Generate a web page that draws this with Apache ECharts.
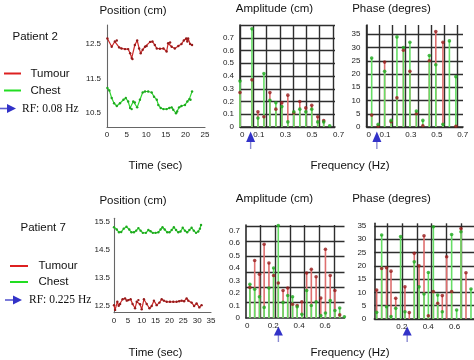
<!DOCTYPE html>
<html><head><meta charset="utf-8">
<script src="https://cdn.jsdelivr.net/npm/echarts@6/dist/echarts.min.js"></script>
<style>html,body{margin:0;padding:0;background:#fff}#c{width:474px;height:360px}</style>
</head><body><div id="c"></div>
<script>
// ---------- Patient 2 : position traces ----------
const p2TumourT = [0.1,1.2,2.0,2.5,3.1,3.7,4.6,5.4,5.9,6.3,6.5,7.1,7.7,8.2,8.6,9.1,9.7,10.1,11.0,11.6,12.2,12.7,13.5,14.4,15.2,15.6,16.1,16.5,17.3,18.2,19.0,19.6,20.2,20.5,20.7,21.2,21.7];
const p2Tumour  = [12.66,12.42,12.57,12.60,12.40,12.37,12.35,12.35,12.23,12.09,12.06,12.47,12.60,12.37,12.23,12.33,12.42,12.44,12.56,12.57,12.47,12.37,12.36,12.37,12.28,12.52,12.54,12.42,12.37,12.44,12.50,12.60,12.66,12.57,12.66,12.50,12.47];
const p2ChestT  = [0.1,0.6,1.2,1.8,2.5,3.3,4.2,4.8,5.4,5.9,6.3,6.7,7.1,7.7,8.4,9.1,9.7,10.5,11.4,12.0,12.7,13.1,13.7,14.4,15.2,15.9,16.5,16.9,17.6,17.9,18.4,19.0,19.9,20.5,21.0,21.3,21.7];
const p2Chest   = [11.22,11.15,10.93,10.78,10.70,10.78,10.88,10.93,10.83,10.64,10.61,10.83,10.80,10.66,10.88,11.09,11.12,11.12,11.09,10.97,10.88,10.73,10.64,10.61,10.61,10.64,10.66,10.59,10.49,10.54,10.66,10.70,10.73,10.83,10.90,10.88,11.12];
// ---------- Patient 2 : spectra ----------
const p2AmpFreq     = [0,0.09,0.135,0.18,0.225,0.27,0.315,0.36,0.405,0.45,0.495,0.54,0.585,0.63,0.675];
const p2AmpTumour   = [0.27,0.37,0.12,0.08,0.27,0.14,0.19,0.25,0.11,0.20,0.15,0.17,0.08,0.05,null];
const p2AmpChest    = [0.36,0.77,0.07,0.42,0.21,0.19,0.16,0.04,0.12,0.14,0.12,0.14,0.04,0.04,0.01];
const p2PhFreq      = [0.04,0.09,0.14,0.19,0.235,0.285,0.335,0.385,0.435,0.485,0.535,0.59,0.64,0.69];
const p2PhTumour    = [4.5,0.3,24.5,2,11,29,21,5,0.5,25,36,32,null,0.3];
const p2PhChest     = [26,1,21,2.5,34,30,32,6,2.5,27,23.5,1,32.5,19];
const p2RF = 0.08;
// ---------- Patient 7 : position traces ----------
const p7TumourT = [0,0.4,1.2,1.7,2.2,3.1,4.0,4.6,5.2,6.0,6.7,7.6,8.2,8.8,9.4,10.0,10.8,11.8,12.8,13.6,14.4,15.4,16.4,17.2,18.0,19.0,20.2,21.4,22.6,23.5,24.4,25.3,26.2,26.8,28.0,28.9,29.8,30.8,31.6];
const p7Tumour  = [12.52,12.35,12.64,12.50,12.56,12.73,12.76,12.68,12.70,12.73,12.56,12.41,12.64,12.70,12.55,12.37,12.73,12.56,12.41,12.49,12.68,12.52,12.61,12.73,12.68,12.64,12.64,12.64,12.64,12.66,12.68,12.66,12.76,12.68,12.61,12.49,12.58,12.44,12.52];
const p7ChestT  = [0,1,1.8,2.6,3.5,4.5,5.5,6.3,7.2,8,8.8,9.6,10.4,11.5,12.4,13.2,14,15,16,16.8,17.5,18.3,19.2,20,20.8,21.6,22.4,23.2,24,24.8,25.6,26.4,27.2,28,28.8,29.6,30.4,31,31.4];
const p7Chest   = [15.30,15.22,15.12,15.13,15.25,15.32,15.22,15.12,15.12,15.18,15.27,15.18,15.10,15.10,15.20,15.16,15.10,15.10,15.12,15.22,15.30,15.22,15.12,15.12,15.20,15.30,15.20,15.12,15.15,15.28,15.18,15.12,15.20,15.28,15.18,15.10,15.15,15.25,15.38];
// ---------- Patient 7 : spectra ----------
const p7AmpFreq   = [0.02,0.057,0.094,0.13,0.167,0.203,0.239,0.276,0.312,0.349,0.385,0.421,0.458,0.494,0.531,0.567,0.603,0.64,0.676,0.713,0.749];
const p7AmpTumour = [0.245,0.46,0.35,0.59,0.44,0.34,0.28,0.22,0.24,0.11,0.10,0.13,0.36,0.39,0.33,0.16,0.55,0.34,0.22,0.025,null];
const p7AmpChest  = [0.27,0.23,0.17,0.085,0.24,0.40,0.74,0.125,0.18,0.17,0.09,0.03,0.22,0.10,0.13,0.02,0.04,0.14,0.06,0.08,0.01];
const p7PhFreq    = [0.008,0.046,0.083,0.117,0.153,0.19,0.223,0.256,0.294,0.33,0.368,0.401,0.439,0.472,0.507,0.54,0.578,0.616,0.649,0.687,0.725];
const p7PhTumour  = [10.9,19,19.3,18,7.8,null,12.1,2.4,24.7,20,31.3,1.2,10.3,5.9,8.8,23.4,10.3,null,34,17.4,null];
const p7PhChest   = [2.5,31.6,4.6,0.9,4,31,2.7,null,21.5,12.1,9.4,17.5,34.7,9,2.7,null,31.8,3.4,32.8,null,11.3];
const p7RF = 0.24;
// ---------- tick labels ----------
const p2PosYTicks = [10.5,11.5,12.5];
const p7PosYTicks = [12.5,13.5,14.5,15.5];
const topFreqLabels = [0,0.1,0.3,0.5,0.7];
const topFreqGrid = [0,0.1,0.2,0.3,0.4,0.5,0.6,0.7];
const ampLabels = [0,0.1,0.2,0.3,0.4,0.5,0.6,0.7];
const topAmpGrid = [0,0.1,0.2,0.3,0.4,0.5,0.6,0.7,0.8];
const phaseLabels = [0,5,10,15,20,25,30,35];
const p7AmpFreqLabels = [0,0.2,0.4,0.6];
const p7AmpXGrid = [0.1,0.214,0.328,0.442,0.556,0.67];
const p7AmpYGrid = [0.123,0.246,0.369,0.492,0.615,0.738];
const p7PhFreqLabels = [0.2,0.4,0.6];
const p7PhXGrid = [0.09,0.202,0.314,0.426,0.538,0.65];

const FONT = '"Liberation Sans", Arial, sans-serif';
const SERIF = '"Liberation Serif", "Times New Roman", serif';
const RED_LINE = '#cc2a2a', RED_DOT = '#961a1a';
const GRN_LINE = '#2fd62f', GRN_DOT = '#1fa81f';
const STEM_RED = '#de6f6f', STEM_GRN = '#66de66';
const GRID_C = '#2e2e2e';

const zip = (a, b) => a.map((v, i) => [v, b[i]]).filter(p => p[1] !== null && p[1] !== undefined);
const lbl = (extra) => Object.assign({fontSize: 8, color: '#222', fontFamily: FONT, margin: 4}, extra || {});

const grids = [
  {left: 107, top: 25, width: 98, height: 102},
  {left: 240, top: 25, width: 95, height: 102},
  {left: 366.5, top: 25, width: 96.5, height: 102},
  {left: 114, top: 218.3, width: 97, height: 94.4},
  {left: 246, top: 225, width: 98.5, height: 93},
  {left: 374.3, top: 223.3, width: 99.7, height: 95.7}
];

const gridLine = {show: true, lineStyle: {color: GRID_C, width: 1.4}};
const darkAxis = {show: true, onZero: false, lineStyle: {color: '#2a2a2a', width: 1.6}};
const grayAxis = {show: true, onZero: false, lineStyle: {color: '#666', width: 1.1}};

const xAxis = [
  {gridIndex: 0, type: 'value', min: 0, max: 25, interval: 5, axisLine: grayAxis, axisTick: {show: false}, splitLine: {show: false}, axisLabel: lbl()},
  {gridIndex: 1, type: 'value', min: 0, max: 0.715, axisLine: darkAxis, axisTick: {show: false, customValues: topFreqGrid}, splitLine: gridLine, axisLabel: lbl({align: 'left', customValues: topFreqLabels, formatter: v => String(v)})},
  {gridIndex: 2, type: 'value', min: 0, max: 0.745, axisLine: darkAxis, axisTick: {show: false, customValues: topFreqGrid}, splitLine: gridLine, axisLabel: lbl({align: 'left', customValues: topFreqLabels, formatter: v => String(v)})},
  {gridIndex: 3, type: 'value', min: 0, max: 35, interval: 5, axisLine: grayAxis, axisTick: {show: false}, splitLine: {show: false}, axisLabel: lbl()},
  {gridIndex: 4, type: 'value', min: -0.01, max: 0.75, axisLine: darkAxis, axisTick: {show: false, customValues: p7AmpXGrid}, splitLine: gridLine, axisLabel: lbl({customValues: p7AmpFreqLabels, formatter: v => String(v)})},
  {gridIndex: 5, type: 'value', min: -0.01, max: 0.748, axisLine: darkAxis, axisTick: {show: false, customValues: p7PhXGrid}, splitLine: gridLine, axisLabel: lbl({customValues: p7PhFreqLabels, formatter: v => String(v)})}
];

const yAxis = [
  {gridIndex: 0, type: 'value', min: 10.09, max: 13.05, axisLine: grayAxis, axisTick: {show: false, customValues: p2PosYTicks}, splitLine: {show: false}, axisLabel: lbl({margin: 6, customValues: p2PosYTicks, formatter: v => v.toFixed(1)})},
  {gridIndex: 1, type: 'value', min: 0, max: 0.8, axisLine: darkAxis, axisTick: {show: false, customValues: topAmpGrid}, splitLine: gridLine, axisLabel: lbl({margin: 6, customValues: ampLabels, formatter: v => String(v)})},
  {gridIndex: 2, type: 'value', min: 0, max: 38.5, axisLine: darkAxis, axisTick: {show: false, customValues: phaseLabels}, splitLine: gridLine, axisLabel: lbl({margin: 6, customValues: phaseLabels})},
  {gridIndex: 3, type: 'value', min: 12.25, max: 15.62, axisLine: grayAxis, axisTick: {show: false, customValues: p7PosYTicks}, splitLine: {show: false}, axisLabel: lbl({margin: 4, customValues: p7PosYTicks, formatter: v => v.toFixed(1)})},
  {gridIndex: 4, type: 'value', min: 0, max: 0.744, axisLine: darkAxis, axisTick: {show: false, customValues: p7AmpYGrid}, splitLine: gridLine, axisLabel: lbl({margin: 6, customValues: ampLabels, formatter: v => String(v)})},
  {gridIndex: 5, type: 'value', min: 0, max: 36, axisLine: darkAxis, axisTick: {show: false, customValues: phaseLabels}, splitLine: gridLine, axisLabel: lbl({margin: 8, customValues: phaseLabels})}
];

function posLine(idx, t, v, lineC, dotC) {
  return {type: 'line', xAxisIndex: idx, yAxisIndex: idx, data: zip(t, v), symbol: 'circle', symbolSize: 2.4, showSymbol: true,
    lineStyle: {color: lineC, width: 1.2}, itemStyle: {color: dotC}, silent: true};
}
function stems(idx, f, v, color) {
  return {type: 'custom', xAxisIndex: idx, yAxisIndex: idx, data: zip(f, v), encode: {x: 0, y: 1}, silent: true,
    renderItem: function (params, api) {
      const p0 = api.coord([api.value(0), 0]);
      const p1 = api.coord([api.value(0), api.value(1)]);
      return {type: 'line', shape: {x1: p0[0], y1: p0[1], x2: p1[0], y2: p1[1]}, style: {stroke: color, lineWidth: 1.6}};
    }};
}
function dots(idx, f, v, color) {
  return {type: 'scatter', xAxisIndex: idx, yAxisIndex: idx, data: zip(f, v), symbol: 'circle', symbolSize: 3.6, itemStyle: {color: color}, silent: true};
}

const series = [
  posLine(0, p2TumourT, p2Tumour, RED_LINE, RED_DOT),
  posLine(0, p2ChestT, p2Chest, GRN_LINE, GRN_DOT),
  posLine(3, p7TumourT, p7Tumour, RED_LINE, RED_DOT),
  posLine(3, p7ChestT, p7Chest, GRN_LINE, GRN_DOT),
  stems(1, p2AmpFreq, p2AmpTumour, STEM_RED), stems(1, p2AmpFreq, p2AmpChest, STEM_GRN),
  dots(1, p2AmpFreq, p2AmpTumour, RED_DOT), dots(1, p2AmpFreq, p2AmpChest, GRN_DOT),
  stems(2, p2PhFreq, p2PhTumour, STEM_RED), stems(2, p2PhFreq, p2PhChest, STEM_GRN),
  dots(2, p2PhFreq, p2PhTumour, RED_DOT), dots(2, p2PhFreq, p2PhChest, GRN_DOT),
  stems(4, p7AmpFreq, p7AmpTumour, STEM_RED), stems(4, p7AmpFreq, p7AmpChest, STEM_GRN),
  dots(4, p7AmpFreq, p7AmpTumour, RED_DOT), dots(4, p7AmpFreq, p7AmpChest, GRN_DOT),
  stems(5, p7PhFreq, p7PhTumour, STEM_RED), stems(5, p7PhFreq, p7PhChest, STEM_GRN),
  dots(5, p7PhFreq, p7PhTumour, RED_DOT), dots(5, p7PhFreq, p7PhChest, GRN_DOT)
];

const chart = echarts.init(document.getElementById('c'), null, {renderer: 'canvas'});
chart.setOption({animation: false, backgroundColor: '#fff', grid: grids, xAxis: xAxis, yAxis: yAxis, series: series});

function txt(x, y, s, opt) {
  return {type: 'text', x: x, y: y, silent: true, style: Object.assign({text: s, font: '11.5px ' + FONT, fill: '#111', align: 'left', verticalAlign: 'middle'}, opt || {})};
}
function upArrow(x, yTip, yBase, yEnd) {
  return [
    {type: 'line', silent: true, shape: {x1: x, y1: yBase - 1, x2: x, y2: yEnd}, style: {stroke: '#8a8ad2', lineWidth: 1.4}},
    {type: 'polygon', silent: true, shape: {points: [[x, yTip], [x - 4.5, yBase], [x + 4.5, yBase]]}, style: {fill: '#3232c8'}}
  ];
}
function rightArrow(x0, xBase, xTip, y) {
  return [
    {type: 'line', silent: true, shape: {x1: x0, y1: y, x2: xBase + 1, y2: y}, style: {stroke: '#5a5ad0', lineWidth: 1.6}},
    {type: 'polygon', silent: true, shape: {points: [[xTip, y], [xBase, y - 4.5], [xBase, y + 4.5]]}, style: {fill: '#3232c8'}}
  ];
}
function legLine(x1, x2, y, c) {
  return {type: 'line', silent: true, shape: {x1: x1, y1: y, x2: x2, y2: y}, style: {stroke: c, lineWidth: 2}};
}

const ax1 = chart.convertToPixel({xAxisIndex: 1}, p2RF);
const ax2 = chart.convertToPixel({xAxisIndex: 2}, p2RF);
const ax4 = chart.convertToPixel({xAxisIndex: 4}, p7RF);
const ax5 = chart.convertToPixel({xAxisIndex: 5}, p7RF);

const g = [
  txt(133, 10.5, 'Position (cm)', {align: 'center'}),
  txt(274.5, 8.5, 'Amplitude (cm)', {align: 'center'}),
  txt(391.5, 8.5, 'Phase (degres)', {align: 'center'}),
  txt(12.5, 36.5, 'Patient 2'),
  legLine(4, 21, 73.5, '#dd2020'), txt(30.5, 73.5, 'Tumour'),
  legLine(4, 21, 90.5, '#22dd22'), txt(30.5, 90.5, 'Chest'),
  ...rightArrow(0, 7, 16, 108.5), txt(22, 108.5, 'RF: 0.08 Hz', {font: '11.5px ' + SERIF}),
  txt(155.5, 165.5, 'Time (sec)', {align: 'center'}),
  txt(350, 165.5, 'Frequency (Hz)', {align: 'center'}),
  ...upArrow(ax1, 131.5, 142, 149), ...upArrow(ax2, 131.5, 142, 149),

  txt(133, 200.5, 'Position (cm)', {align: 'center'}),
  txt(274.5, 199, 'Amplitude (cm)', {align: 'center'}),
  txt(391.5, 199, 'Phase (degres)', {align: 'center'}),
  txt(20.5, 228, 'Patient 7'),
  legLine(10, 28, 266, '#dd2020'), txt(38.5, 266, 'Tumour'),
  legLine(10, 28, 282, '#22dd22'), txt(38.5, 282, 'Chest'),
  ...rightArrow(5, 13, 22, 300), txt(29, 300, 'RF: 0.225 Hz', {font: '11.5px ' + SERIF}),
  txt(155.5, 353, 'Time (sec)', {align: 'center'}),
  txt(350, 353, 'Frequency (Hz)', {align: 'center'}),
  ...upArrow(ax4, 326.5, 335.5, 342), ...upArrow(ax5, 326.5, 335.5, 342)
];
chart.setOption({graphic: g});
</script>
</body></html>
